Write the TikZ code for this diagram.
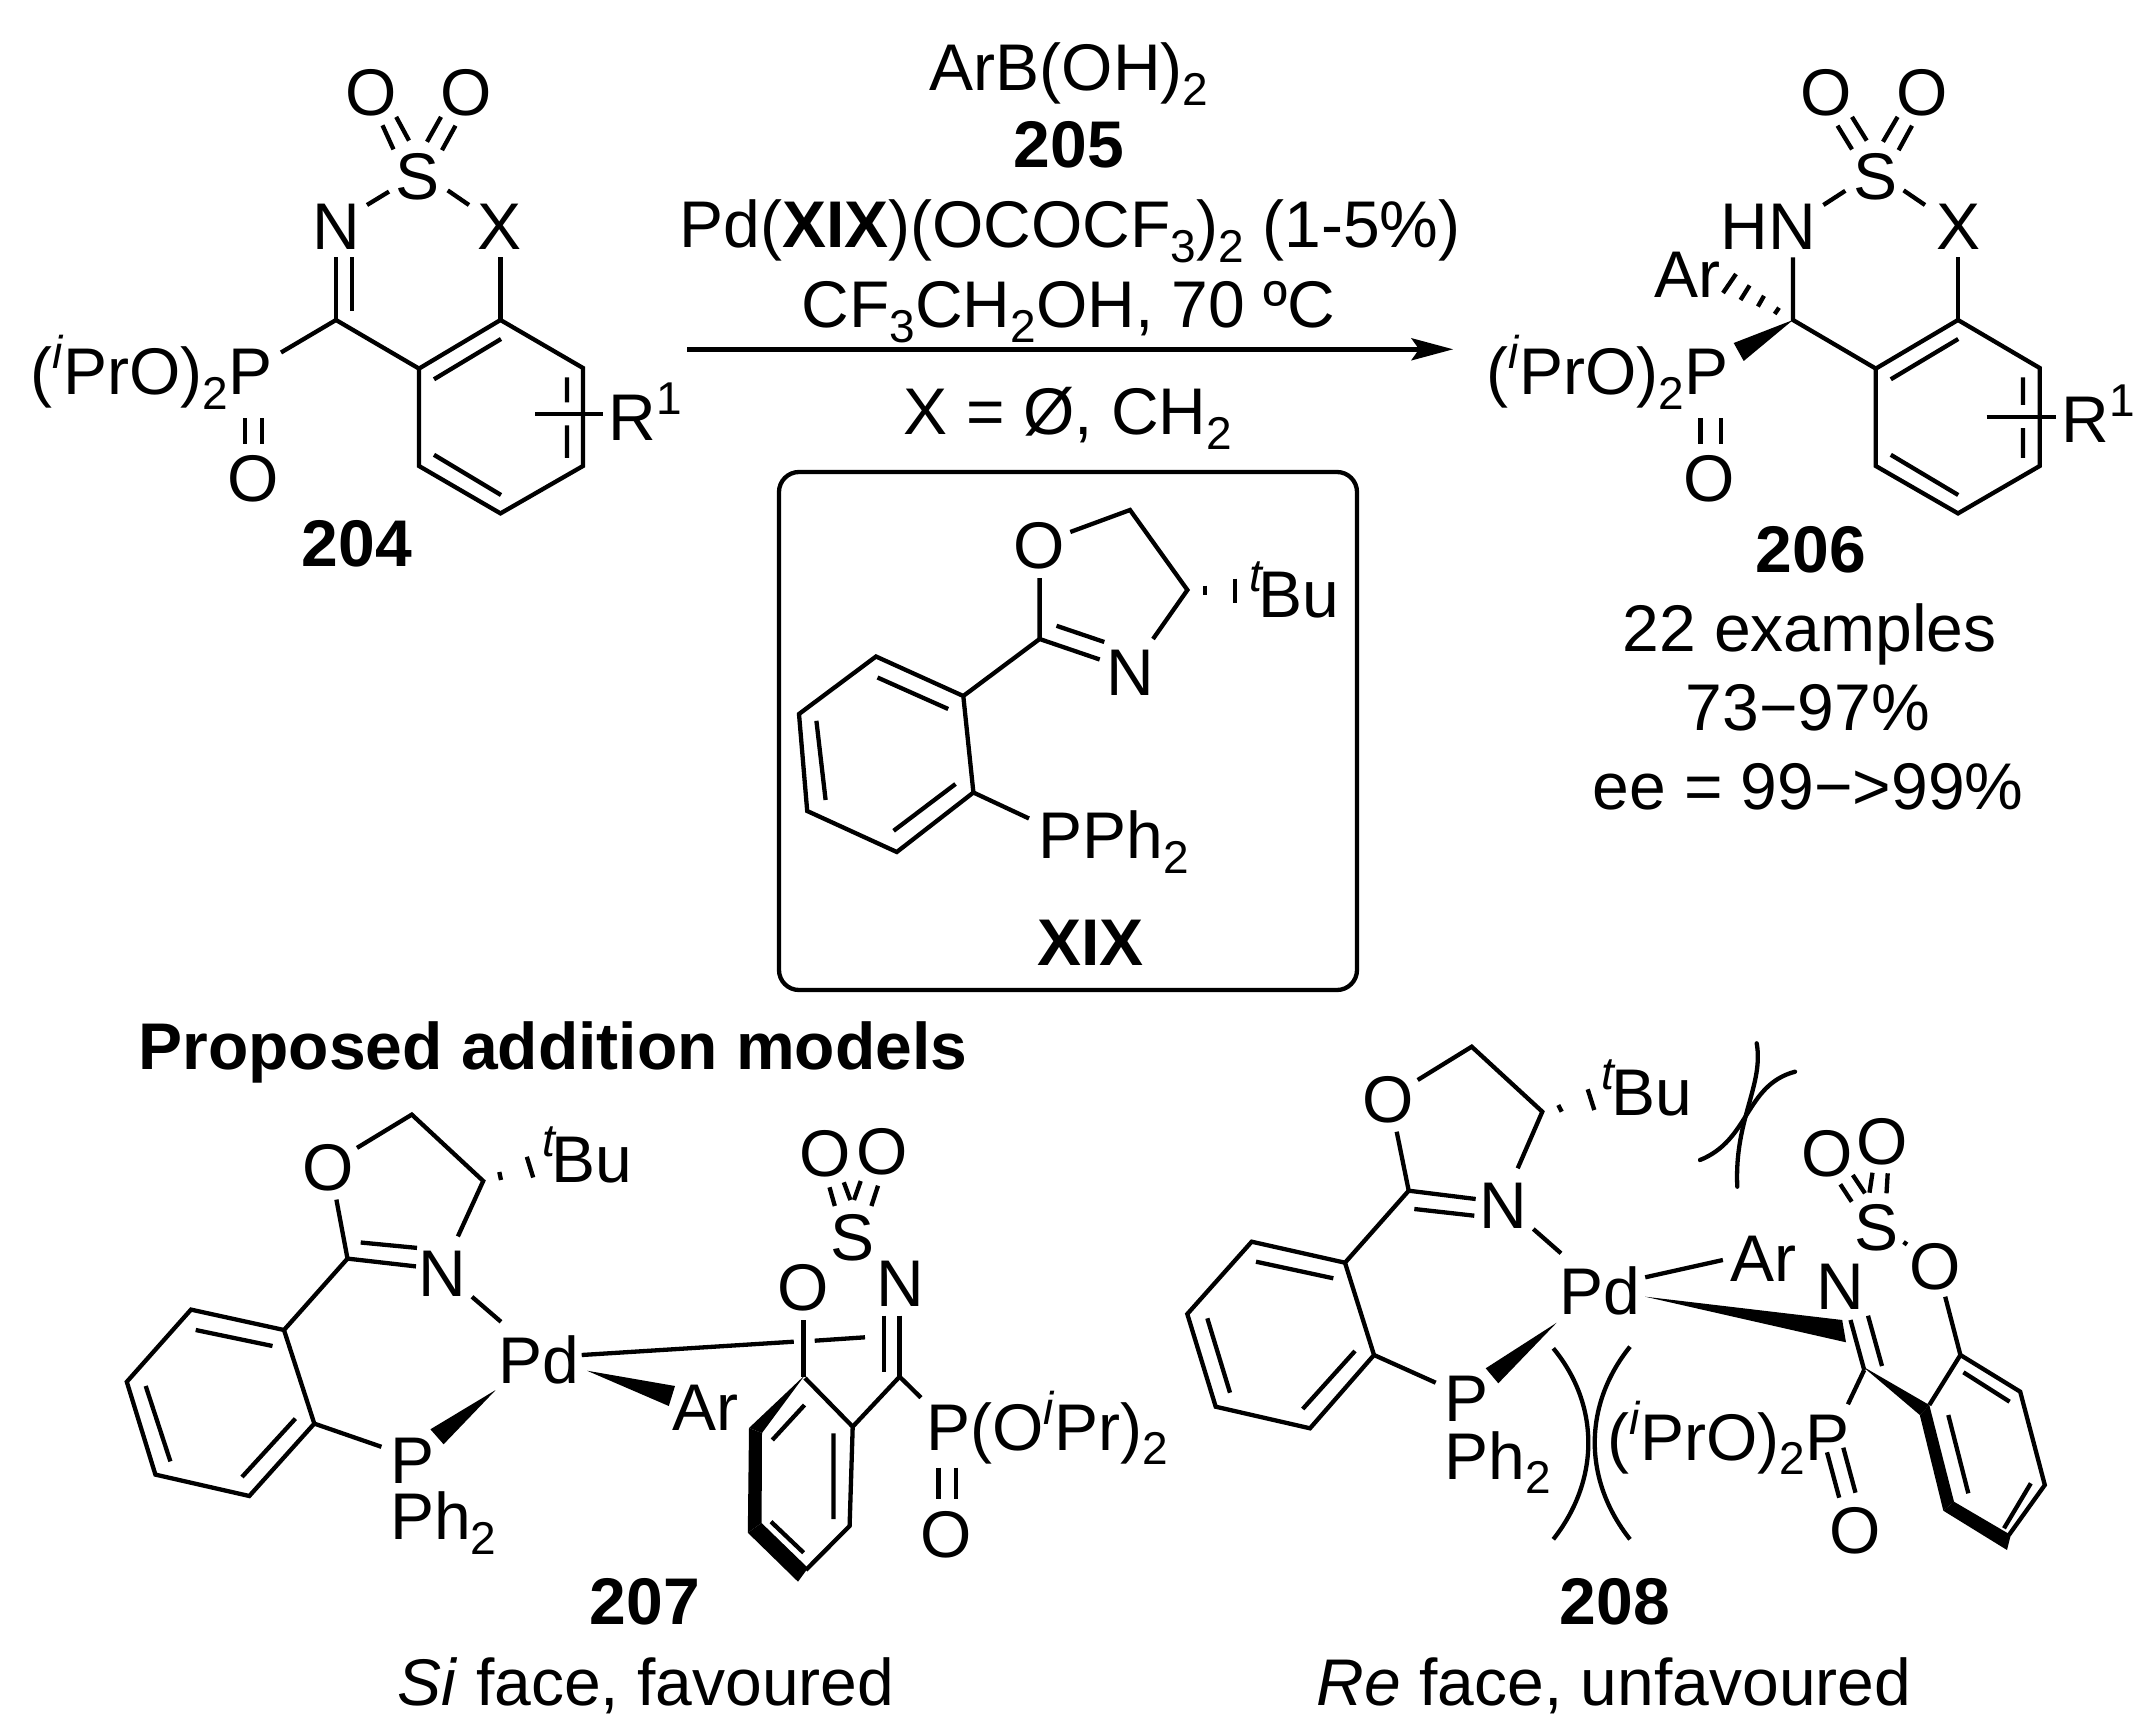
\documentclass[tikz,border=0pt]{standalone}
\usepackage{fontspec}
\setmainfont{Liberation Sans}
\newcommand\subs[1]{\raisebox{-7.25pt}{\fontsize{23}{23}\selectfont #1}}
\newcommand\sups[1]{\raisebox{13pt}{\fontsize{23}{23}\selectfont #1}}
\tikzset{
  atom/.style={inner sep=0pt,anchor=base,font=\fontsize{33}{33}\selectfont},
  lab/.style={inner sep=0pt,anchor=base west,font=\fontsize{33}{33}\selectfont},
  captxt/.style={inner sep=0pt,anchor=base,font=\fontsize{33}{33}\selectfont},
  capb/.style={inner sep=0pt,anchor=base,font=\fontsize{33}{33}\selectfont\bfseries},
  bond/.style={line width=2.15pt,line join=miter,black},
  wedgefill/.style={fill=black,draw=none},
}
\begin{document}
\begin{tikzpicture}[x=0.5pt,y=-0.5pt]
\useasboundingbox (0,0) rectangle (2154,1728);

%% ---------- 204 ----------
\node[atom] (a1) at (371,116) {O};
\node[atom] (a2) at (466,116) {O};
\node[atom] (a3) at (418,200) {S};
\node[atom] (a4) at (336,250) {N};
\node[atom] (a5) at (500,250) {X};
\node[lab]  (a6) at (30,394.6) {(\sups{\textit{i}}PrO)\subs{2}P};
\node[atom] (a7) at (253.4,502) {O};
\node[lab]  (a8) at (608,440.6) {R\sups{1}};
\node[capb] (a9) at (357,566.3) {204};
\begin{scope}[bond]
\draw (382.5,125.3)--(393.5,149.4) (396.2,116.9)--(409,140.6);
\draw (441,116.9)--(427,141.8) (455.5,125.7)--(442,150.2);
\draw (367,205)--(389,191.6) (447.7,190.4)--(469,205);
\draw (336,257.5)--(336,320) (352,257.5)--(352,311);
\draw (281,352.5)--(336,320)--(419,368.6);
\draw (500.5,257.5)--(500.5,320);
\draw (419,368.6)--(500.5,320)--(583,368)--(583,466)--(500.5,513.4)--(419,466)--cycle;
\draw (434,379.3)--(501,339) (567,377.4)--(567,402.3) (567,425.3)--(567,457.9) (434,454.8)--(501,495);
\draw (535,413.8)--(603,413.8);
\draw (245,418.4)--(245,443.7) (262,418.4)--(262,443.7);
\end{scope}

%% ---------- reagents ----------
\node[captxt]  (r1) at (1069,90.7) {ArB(OH)\subs{2}};
\node[capb] (r2) at (1068.7,168) {205};
\node[captxt]  (r3) at (1070,248) {Pd(\textbf{XIX})(OCOCF\subs{3})\subs{2} (1-5\%)};
\node[captxt]  (r4) at (1068.5,328) {CF\subs{3}CH\subs{2}OH, 70 ºC};
\node[captxt]  (r5) at (1068,435) {X = Ø, CH\subs{2}};
\coordinate (arrS) at (687,349.3);
\coordinate (arrE) at (1453,349.3);
\draw[line width=2.35pt] (arrS)--(1420,349.3);
\fill (arrE)--(1411,338)--(1419,349.3)--(1411,360.6)--cycle;

%% ---------- 206 ----------
\node[atom] (b1) at (1826,116) {O};
\node[atom] (b2) at (1922,116) {O};
\node[atom] (b3) at (1875,200) {S};
\node[atom] (b4) at (1768,250) {HN};
\node[atom] (b5) at (1958,250) {X};
\node[lab]  (b6) at (1654,298) {Ar};
\node[lab]  (b7) at (1486,394.6) {(\sups{\textit{i}}PrO)\subs{2}P};
\node[atom] (b8) at (1709.6,502) {O};
\node[lab]  (b9) at (2061,442.5) {R\sups{1}};
\node[capb] (b10) at (1811,572.8) {206};
\node[captxt]  (b11) at (1809.5,651.7) {22 examples};
\node[captxt]  (b12) at (1808,730) {73−97\%};
\node[captxt]  (b13) at (1808,809) {ee = 99−>99\%};
\begin{scope}[bond]
\draw (1837.5,125.7)--(1852,149.4) (1852,116.9)--(1866.7,140.6);
\draw (1897.6,116.9)--(1883,141.8) (1912,125.7)--(1898.6,150.2);
\draw (1823.4,205)--(1845.3,190.8) (1903.6,190.4)--(1925,205);
\draw (1793,257.5)--(1793,320)--(1875.8,368.6);
\draw (1958,257.5)--(1958,320);
\draw (1875.8,368.6)--(1958,320)--(2039.7,368)--(2039.7,466)--(1958,513.4)--(1875.8,466)--cycle;
\draw (1890.8,379.3)--(1958.2,339) (2023,377.4)--(2023,405) (2023,428)--(2023,457.9) (1890.8,454.8)--(1958.2,495);
\draw (1986.5,416.9)--(2055.7,416.9);
\draw (1700.5,418.4)--(1700.5,443.7) (1721,418.4)--(1721,443.7);
\draw (1774.7,314)--(1779,307.7) (1757.9,306.5)--(1764,295.8) (1740.5,300)--(1749.6,285.4) (1723,293)--(1736,274);
\end{scope}
\fill[wedgefill] (1793,320)--(1733.7,343)--(1743.7,361)--cycle;

%% ---------- XIX box ----------
\draw[bond,rounded corners=10pt] (779,472) rectangle (1357,990);
\node[atom] (c1) at (1039.6,568) {O};
\node[atom] (c2) at (1130,695.6) {N};
\node[lab]  (c3) at (1249,617) {\sups{\textit{t}}\kern-2.5pt Bu};
\node[lab]  (c4) at (1038,858.8) {PPh\subs{2}};
\node[capb] (c5) at (1090.5,965) {XIX};
\begin{scope}[bond]
\draw (1039.6,578)--(1039.6,639)--(1099.7,659.5);
\draw (1056.5,625.8)--(1104.3,642);
\draw (1153,639)--(1187.4,590)--(1130,510)--(1070.3,532);
\draw (1205.3,585.6)--(1205.3,595) (1235,578.7)--(1235,602.8);
\draw (1039.6,639)--(963.3,696);
\draw (963.3,696)--(876,656.5)--(799,714)--(807.2,811)--(896.8,852)--(973.4,792.5)--cycle;
\draw (877.5,677.5)--(948.2,709) (816.4,720.8)--(825.6,800) (893.6,830.8)--(955.5,784);
\draw (973.4,792.5)--(1029,818.5);
\end{scope}

\node[capb,anchor=base west] (h1) at (138,1069) {Proposed addition models};

%% ---------- 207 ----------
\node[atom] (d1) at (328,1190) {O};
\node[atom] (d2) at (442,1296) {N};
\node[lab]  (d3) at (542,1182.5) {\sups{\textit{t}}\kern-2.5pt Bu};
\node[lab]  (d4) at (498,1383) {Pd};
\node[lab]  (d5) at (389.6,1483.6) {P};
\node[lab]  (d6) at (389.6,1539.6) {Ph\subs{2}};
\node[lab]  (d7) at (672,1430.7) {Ar};
\node[atom] (d8) at (825,1176.5) {O};
\node[atom] (d9) at (881.7,1174) {O};
\node[atom] (d10) at (852.7,1260) {S};
\node[atom] (d11) at (803.6,1310.7) {O};
\node[atom] (d12) at (900.4,1306.7) {N};
\node[lab]  (d13) at (925.8,1450) {P(O\sups{\textit{i}}Pr)\subs{2}};
\node[atom] (d14) at (946.4,1557) {O};
\node[capb] (d15) at (645,1624) {207};
\node[captxt]  (d16) at (646,1705) {\textit{Si} face, favoured};
\begin{scope}[bond]
\draw (336.4,1199.6)--(347.5,1258.6)--(416,1266.4);
\draw (360.7,1242.5)--(417,1247.9);
\draw (457.9,1236.4)--(483.2,1181)--(411.8,1114.6)--(357,1147.9);
\draw (499.3,1172)--(501,1180) (526.8,1156.8)--(533.2,1177.5);
\draw (347.5,1258.6)--(284,1330);
\draw (284,1330)--(191,1309.6)--(126.8,1381.8)--(155.4,1474.6)--(249.3,1496)--(314.3,1423.6)--cycle;
\draw (195.7,1330)--(272.5,1346) (145.7,1386)--(170.4,1461.4) (242,1477)--(295.4,1418.6);
\draw (314.3,1423.6)--(381.4,1446.8);
\draw (472,1296.8)--(501,1321.8);
\draw (581.7,1355)--(793.8,1341.7) (814.7,1340.7)--(865,1337.3);
\draw (829.5,1187.3)--(834.8,1206) (843.8,1182.3)--(850.4,1200);
\draw (860.7,1181)--(854,1200) (878,1185.7)--(871.4,1206);
\draw (803.6,1320)--(803.6,1376.7);
\draw (884,1315.7)--(884,1371.7);
\draw (899.6,1315.7)--(899.6,1376.7);
\draw (921,1397.7)--(899.6,1376.7)--(852.7,1426.7);
\draw (805,1378)--(852.7,1426.7)--(849.6,1526)--(805.8,1570);
\draw (772.3,1440)--(804.5,1405) (833.5,1433.3)--(833.5,1519) (771,1521.7)--(803.6,1552.7);
\draw (938.4,1467.7)--(938.4,1499) (956.3,1467.7)--(956.3,1499);
\end{scope}
\fill[wedgefill] (495.7,1390)--(430.4,1429.3)--(443.6,1444.3)--cycle;
\fill[wedgefill] (587,1370.7)--(675,1386)--(668.8,1406)--cycle;
\fill[wedgefill] (805,1375)--(749,1428)--(762,1433)--cycle;
\fill[wedgefill] (749,1428)--(762,1433)--(761.6,1523)--(747.8,1532.7)--cycle;
\fill[wedgefill] (747.8,1532.7)--(761.6,1523)--(808,1568)--(798,1581.7)--cycle;

%% ---------- 208 ----------
\node[atom] (e1) at (1388.3,1122.7) {O};
\node[atom] (e2) at (1503.3,1228.3) {N};
\node[lab]  (e3) at (1601.5,1115) {\sups{\textit{t}}\kern-2.5pt Bu};
\node[lab]  (e4) at (1559.3,1314) {Pd};
\node[lab]  (e5) at (1444.3,1421.7) {P};
\node[lab]  (e6) at (1444.3,1479) {Ph\subs{2}};
\node[lab]  (e7) at (1729.7,1281.7) {Ar};
\node[atom] (e8) at (1827,1176) {O};
\node[atom] (e9) at (1882,1164) {O};
\node[atom] (e10) at (1876.3,1250.7) {S};
\node[atom] (e11) at (1840,1309.3) {N};
\node[atom] (e12) at (1935,1289) {O};
\node[lab]  (e13) at (1607,1460) {(\sups{\textit{i}}PrO)\subs{2}P};
\node[atom] (e14) at (1855.5,1553.3) {O};
\node[capb] (e15) at (1614.7,1624) {208};
\node[captxt]  (e16) at (1614,1705) {\textit{Re} face, unfavoured};
\begin{scope}[bond]
\draw (1396.7,1131.7)--(1408.7,1190.7)--(1475.7,1199);
\draw (1414.3,1209)--(1474.3,1215.7);
\draw (1517.7,1168.3)--(1542.3,1111.7)--(1471.7,1046.7)--(1417.7,1080);
\draw (1558.3,1105)--(1561.7,1111.7) (1587.7,1089.3)--(1594.3,1110);
\draw (1408.7,1190.7)--(1345,1262.7);
\draw (1345,1262.7)--(1251.7,1241.7)--(1187.3,1314)--(1215.7,1406.7)--(1310,1428.3)--(1374,1355)--cycle;
\draw (1256,1261.7)--(1333.3,1278.3) (1207.3,1318.3)--(1230,1392.7) (1302.7,1409)--(1355,1351);
\draw (1374,1355)--(1435.7,1382.7);
\draw (1533.3,1229)--(1561,1253.3);
\draw (1645.2,1277.3)--(1722.9,1260);
\draw (1850.5,1320)--(1864.2,1370) (1868,1315.7)--(1882,1366);
\draw (1864.2,1370)--(1847.9,1404.3);
\draw (1827,1452.3)--(1839.2,1497.7) (1843.3,1447.7)--(1855.5,1492.7);
\draw (1840.3,1184.3)--(1851.7,1201.7) (1852.8,1175)--(1865,1193.3);
\draw (1872.5,1172.7)--(1869.5,1192.7) (1887.7,1173.3)--(1886.5,1193.3);
\draw (1903.5,1242)--(1907,1244.5);
\draw (1945.2,1296.7)--(1960.4,1355);
\draw (1929.3,1405)--(1960.4,1355)--(2020.2,1391.7)--(2044.8,1485)--(2008.9,1535);
\draw (1963.4,1372.3)--(2009.6,1401.7) (1948.3,1415)--(1968.3,1493.3) (2004,1528.3)--(2030.8,1483.3);
%% steric-clash arcs
\draw (1553.3,1348.3) .. controls (1600,1405) and (1600,1480) .. (1553.3,1539.3);
\draw (1630,1346.7) .. controls (1583,1405) and (1583,1480) .. (1630,1539.3);
\draw[line cap=round] (1756.7,1043.3) .. controls (1764,1085) and (1734,1120) .. (1737.3,1186.7);
\draw[line cap=round] (1795,1071.7) .. controls (1745,1085) and (1750,1140) .. (1700,1160);
\end{scope}
\fill[wedgefill] (1556.7,1322.7)--(1485.7,1368.3)--(1498.3,1383.3)--cycle;
\fill[wedgefill] (1645.2,1296.7)--(1842.2,1320)--(1846,1342.3)--cycle;
\fill[wedgefill] (1862,1366)--(1929.3,1405)--(1919.8,1415)--cycle;
\fill[wedgefill] (1929.3,1405)--(1954,1501.7)--(1943.3,1510.7)--(1919.8,1415)--cycle;
\fill[wedgefill] (1954,1501.7)--(2010.8,1535)--(2007,1550)--(1943.3,1510.7)--cycle;
\end{tikzpicture}
\end{document}
